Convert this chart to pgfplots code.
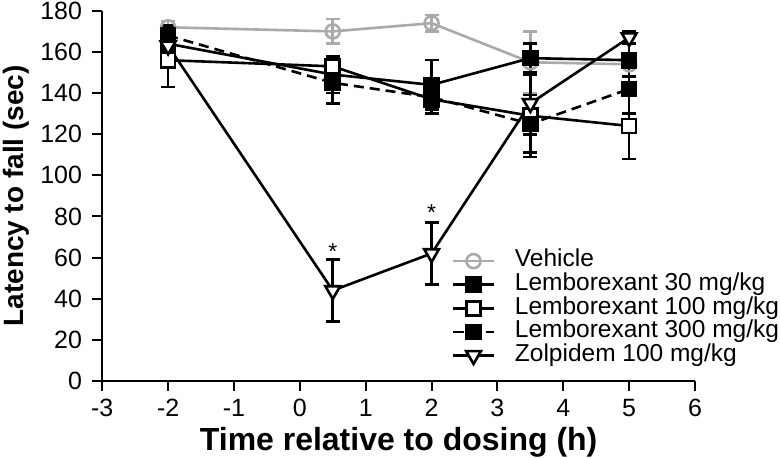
\documentclass[border=0pt]{standalone}
\usepackage{pgfplots}
\pgfplotsset{compat=1.18}
\usepackage{fontspec}
\setmainfont{Liberation Sans}
\definecolor{vgray}{RGB}{170,170,170}
\begin{document}
\begin{tikzpicture}
\begin{axis}[
  scale only axis, width=591bp, height=369bp,
  xmin=-3, xmax=6, ymin=0, ymax=180,
  axis lines=left, axis line style={line width=2bp,-},
  xtick={-3,-2,...,6}, ytick={0,20,...,180},
  tick align=outside, major tick length=10bp,
  tick style={line width=2bp, black},
  /pgf/number format/assume math mode=true,
  ticklabel style={font=\fontsize{25}{28}\selectfont},
  xticklabel style={inner sep=2bp, yshift=-6bp},
  yticklabel style={inner sep=2bp, xshift=-8bp},
  xlabel={Time relative to dosing (h)},
  ylabel={Latency to fall (sec)},
  xlabel style={font=\fontsize{32}{35}\selectfont\bfseries, inner sep=0pt, yshift=-8bp},
  ylabel style={font=\fontsize{28}{32}\selectfont\bfseries, inner xsep=0pt, inner ysep=3bp, yshift=6bp},
  legend style={draw=none, fill=none, font=\fontsize{24.5}{24.5}\selectfont,
    at={(axis cs:2.31,64.1)}, anchor=north west, row sep=0bp,
    inner xsep=0pt, inner ysep=0pt,
    nodes={inner sep=1bp, text height=16.5bp, text depth=5bp},
    /tikz/every odd column/.append style={column sep=19bp}},
  legend cell align=left,
  legend image code/.code={\draw[mark repeat=2,mark phase=2] plot coordinates {(0bp,0bp) (20bp,0bp) (40bp,0bp)};},
  clip=false,
  every axis plot/.append style={line width=2.6bp},
]
% Vehicle
\addplot+[vgray, mark=o, mark size=7bp, mark options={vgray, fill=white, solid},
  error bars/.cd, y dir=both, y explicit,
  error bar style={line width=2.6bp, solid},
  error mark options={rotate=90, mark size=7bp, line width=2.6bp, solid}]
  table[x=x, y=y, y error=e] {
x y e
-2 172 3
0.5 170 6
2 174 4
3.5 155 15
5 154 14
};
\addlegendentry{Vehicle}
% Lemborexant 30
\addplot+[black, mark=square*, mark size=7bp, mark options={black, fill=black, solid},
  error bars/.cd, y dir=both, y explicit,
  error bar style={line width=2.6bp, solid},
  error mark options={rotate=90, mark size=7bp, line width=2.6bp, solid}]
  table[x=x, y=y, y error=e] {
x y e
-2 164 6
0.5 149 9
2 144 12
3.5 157 7
5 156 8
};
\addlegendentry{Lemborexant 30 mg/kg}
% Lemborexant 100
\addplot+[black, mark=square*, mark size=7bp, mark options={black, fill=white, solid},
  error bars/.cd, y dir=both, y explicit,
  error bar style={line width=2.6bp, solid},
  error mark options={rotate=90, mark size=7bp, line width=2.6bp, solid}]
  table[x=x, y=y, y error=e] {
x y e
-2 156 13
0.5 153 4
2 137 7
3.5 129 20
5 124 16
};
\addlegendentry{Lemborexant 100 mg/kg}
% Lemborexant 300
\addplot+[black, dash pattern=on 10bp off 6bp, mark=square*, mark size=7bp, mark options={black, fill=black, solid},
  error bars/.cd, y dir=both, y explicit,
  error bar style={line width=2.6bp, solid},
  error mark options={rotate=90, mark size=7bp, line width=2.6bp, solid}]
  table[x=x, y=y, y error=e] {
x y e
-2 168 5
0.5 145 10
2 138 6
3.5 125 14
5 142 12
};
\addlegendentry{Lemborexant 300 mg/kg}
% Zolpidem
\addplot+[black, mark=triangle*, mark size=8.5bp, mark options={black, fill=white, solid, rotate=180},
  error bars/.cd, y dir=both, y explicit,
  error bar style={line width=2.6bp, solid},
  error mark options={rotate=90, mark size=7bp, line width=2.6bp, solid}]
  table[x=x, y=y, y error=e] {
x y e
-2 163 5
0.5 44 15
2 62 15
3.5 135 15
5 167 3
};
\addlegendentry{Zolpidem 100 mg/kg}
\node[font=\fontsize{23}{26}\selectfont, anchor=center] at (axis cs:0.5,63) {*};
\node[font=\fontsize{23}{26}\selectfont, anchor=center] at (axis cs:2,82) {*};
\end{axis}
\end{tikzpicture}
\end{document}
